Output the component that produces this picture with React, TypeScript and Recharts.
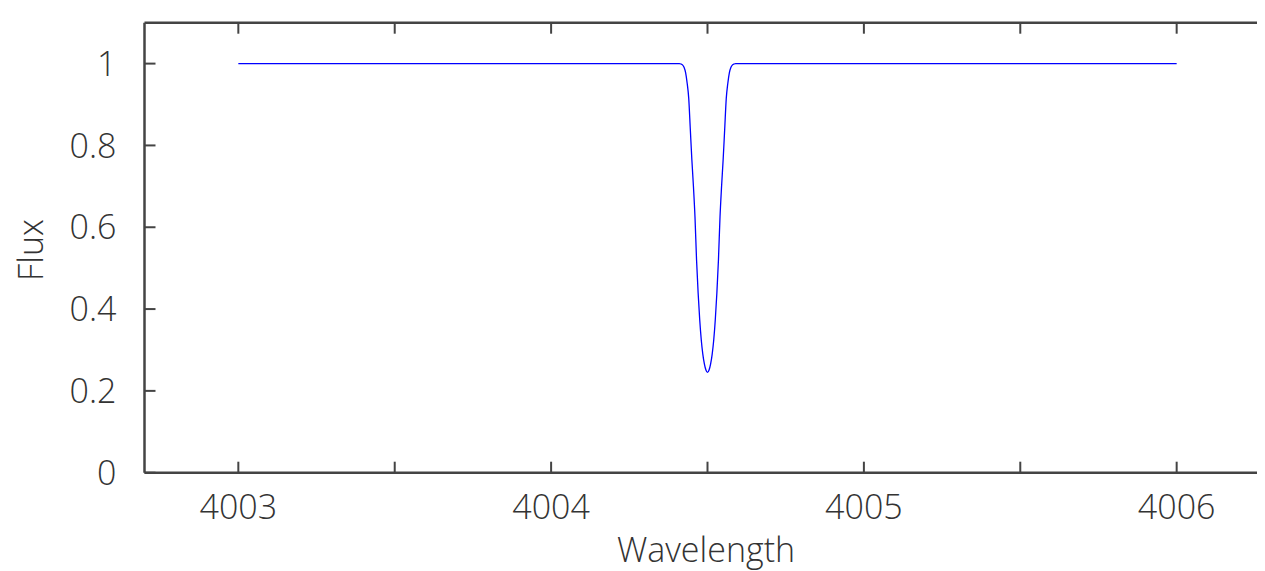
import React from 'react';
import { LineChart, Line, XAxis, YAxis } from 'recharts';

// Wavelength samples (Å) and flux
const wavelengths = [
  4003, 4004.4, 4004.41, 4004.415, 4004.42, 4004.425, 4004.43, 4004.435, 4004.44, 4004.445,
  4004.45, 4004.455, 4004.46, 4004.465, 4004.47, 4004.475, 4004.48, 4004.485, 4004.49, 4004.495,
  4004.5,
  4004.505, 4004.51, 4004.515, 4004.52, 4004.525, 4004.53, 4004.535, 4004.54, 4004.545, 4004.55,
  4004.555, 4004.56, 4004.565, 4004.57, 4004.575, 4004.58, 4004.585, 4004.59, 4004.6, 4006,
];
const flux = [
  1.0, 1.0, 1.0, 0.999, 0.997, 0.991, 0.978, 0.952, 0.915, 0.84,
  0.765, 0.7, 0.625, 0.52, 0.44, 0.375, 0.325, 0.29, 0.266, 0.251,
  0.245,
  0.251, 0.266, 0.29, 0.325, 0.375, 0.44, 0.52, 0.625, 0.7, 0.765,
  0.84, 0.915, 0.952, 0.978, 0.991, 0.997, 0.999, 1.0, 1.0, 1.0,
];

const xDomain = [4002.7, 4006.3];
const xTicks = [4003, 4003.5, 4004, 4004.5, 4005, 4005.5, 4006];
const xLabelTicks = [4003, 4004, 4005, 4006];
const yDomain = [0, 1.1];
const yTicks = [0, 0.2, 0.4, 0.6, 0.8, 1];
const yTickLabels = ['0', '0.2', '0.4', '0.6', '0.8', '1'];

const data = wavelengths.map((w, i) => ({ w, flux: flux[i] }));

const FONT = '"Open Sans", "DejaVu Sans", sans-serif';
const TEXT_COLOR = '#333';
const AXIS_COLOR = '#444';

const XTick = (props: any) => {
  const { x, y, payload } = props;
  const v = payload.value;
  if (!xLabelTicks.some((t) => Math.abs(t - v) < 1e-9)) return <g />;
  return (
    <text x={x} y={y + 57} textAnchor="middle" fontFamily={FONT} fontWeight={300} fontSize={34} fill={TEXT_COLOR}>
      {String(v)}
    </text>
  );
};

const YTick = (props: any) => {
  const { x, y, payload } = props;
  const idx = yTicks.findIndex((t) => Math.abs(t - payload.value) < 1e-9);
  const label = idx >= 0 ? yTickLabels[idx] : String(payload.value);
  return (
    <text x={x - 39} y={y} dy="0.36em" textAnchor="end" fontFamily={FONT} fontWeight={300} fontSize={34} fill={TEXT_COLOR}>
      {label}
    </text>
  );
};

const NoLabel = () => <g />;

const XTitle = () => (
  <text x={698} y={554} textAnchor="middle" fontFamily={FONT} fontWeight={300} fontSize={34} fill={TEXT_COLOR}>
    Wavelength
  </text>
);

const YTitle = () => (
  <text x={22} y={242} transform="rotate(-90 22 242)" textAnchor="middle" dominantBaseline="central"
    fontFamily={FONT} fontWeight={300} fontSize={34} fill={TEXT_COLOR}>
    Flux
  </text>
);

const axisLine = { stroke: AXIS_COLOR, strokeWidth: 2.5 };
const tickLine = { stroke: AXIS_COLOR, strokeWidth: 2 };

export default function App() {
  return (
    <div style={{ width: 1275, height: 563 }}>
      <style>{'html,body{overflow:hidden}'}</style>
      <LineChart width={1275} height={563} data={data}
        margin={{ top: 14.7, right: 12.5, bottom: 98.3, left: 136.5 }}>
        <XAxis xAxisId="bottom" dataKey="w" type="number" orientation="bottom" mirror domain={xDomain}
          allowDataOverflow ticks={xTicks} interval={0} tickSize={11} tickMargin={0}
          axisLine={axisLine} tickLine={tickLine} tick={<XTick />} label={XTitle} />
        <XAxis xAxisId="top" dataKey="w" type="number" orientation="top" mirror domain={xDomain}
          allowDataOverflow ticks={xTicks} interval={0} tickSize={11} tickMargin={0}
          axisLine={axisLine} tickLine={tickLine} tick={<NoLabel />} />
        <YAxis yAxisId="left" type="number" orientation="left" mirror domain={yDomain}
          allowDataOverflow ticks={yTicks} interval={0} tickSize={11} tickMargin={0}
          axisLine={axisLine} tickLine={tickLine} tick={<YTick />} label={YTitle} />
        <YAxis yAxisId="right" type="number" orientation="right" mirror width={0} domain={yDomain}
          allowDataOverflow ticks={yTicks} interval={0} tickSize={11} tickMargin={0}
          axisLine={axisLine} tickLine={tickLine} tick={<NoLabel />} />
        <Line xAxisId="top" yAxisId="right" dataKey="flux" type="monotone" stroke="none" strokeWidth={0}
          dot={false} activeDot={false} legendType="none" isAnimationActive={false} />
        <Line xAxisId="bottom" yAxisId="left" dataKey="flux" type="monotone" stroke="#0000ff" strokeWidth={1.3}
          dot={false} activeDot={false} isAnimationActive={false} />
      </LineChart>
    </div>
  );
}
